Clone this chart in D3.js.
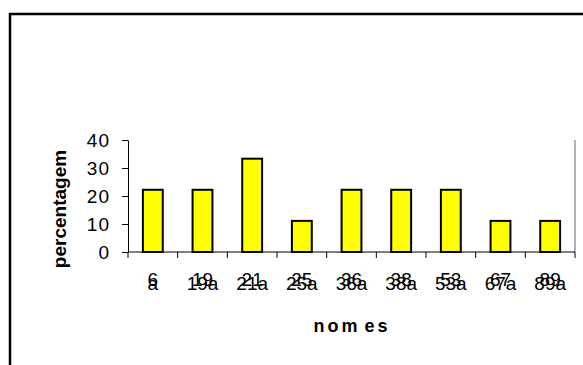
<!DOCTYPE html>
<html>
<head>
<meta charset="utf-8">
<script src="https://cdn.jsdelivr.net/npm/d3@7"></script>
<style>
  html, body { margin: 0; padding: 0; background: #fff; }
  svg text { font-family: Arial, "Liberation Sans", sans-serif; fill: #000; }
</style>
</head>
<body>
<svg id="chart" width="583" height="365"></svg>
<script>
// Category labels (two stacked lines each) and percentage per category
const labelTop    = ["6", "19", "21", "25", "36", "38", "53", "67", "89"];
const labelBottom = ["a", "19a", "21a", "25a", "36a", "38a", "53a", "67a", "89a"];
const percentages = [22.22, 22.22, 33.33, 11.11, 22.22, 22.22, 22.22, 11.11, 11.11];
const yTicks = [0, 10, 20, 30, 40];

const svg = d3.select("#chart");

// outer chart frame (runs off the right and bottom edges)
svg.append("rect")
  .attr("x", 10).attr("y", 14)
  .attr("width", 620).attr("height", 400)
  .attr("fill", "none").attr("stroke", "#000").attr("stroke-width", 2.5);

const plot = { left: 128, right: 575, top: 140, bottom: 252 };

const x = d3.scaleBand()
  .domain(d3.range(labelTop.length))
  .range([plot.left, plot.right])
  .paddingInner(0.6)
  .paddingOuter(0.3);

const y = d3.scaleLinear().domain([0, 40]).range([plot.bottom, plot.top]);

// plot area right edge
svg.append("line")
  .attr("x1", plot.right).attr("x2", plot.right)
  .attr("y1", plot.top).attr("y2", plot.bottom)
  .attr("stroke", "#999").attr("stroke-width", 1.5);

// bars
svg.append("g").selectAll("rect")
  .data(percentages)
  .join("rect")
  .attr("x", (d, i) => x(i))
  .attr("y", d => y(d))
  .attr("width", x.bandwidth())
  .attr("height", d => y(0) - y(d))
  .attr("fill", "#ffff00")
  .attr("stroke", "#000")
  .attr("stroke-width", 2);

// y axis
const yAxis = svg.append("g")
  .attr("transform", `translate(${plot.left},0)`)
  .call(d3.axisLeft(y).tickValues(yTicks).tickSize(6).tickSizeOuter(0).tickPadding(12));
yAxis.selectAll("path, line").attr("stroke", "#000").attr("stroke-width", 1);
yAxis.selectAll("text")
  .attr("font-size", 19)
  .attr("letter-spacing", 1)
  .attr("font-family", "Arial, 'Liberation Sans', sans-serif");

// x axis: baseline with tick marks on category boundaries
const step = x.step();
const boundaries = d3.range(labelTop.length + 1).map(i => plot.left + i * step);
svg.append("line")
  .attr("x1", plot.left).attr("x2", plot.right)
  .attr("y1", plot.bottom).attr("y2", plot.bottom)
  .attr("stroke", "#000").attr("stroke-width", 1);
svg.append("g").selectAll("line")
  .data(boundaries)
  .join("line")
  .attr("x1", d => d).attr("x2", d => d)
  .attr("y1", plot.bottom).attr("y2", plot.bottom + 6)
  .attr("stroke", "#000").attr("stroke-width", 1);

// category labels, two overlapping lines
const labels = svg.append("g").attr("font-size", 19).attr("text-anchor", "middle");
labels.selectAll("text.top")
  .data(labelTop)
  .join("text")
  .attr("class", "top")
  .attr("x", (d, i) => x(i) + x.bandwidth() / 2)
  .attr("y", 286)
  .text(d => d);
labels.selectAll("text.bottom")
  .data(labelBottom)
  .join("text")
  .attr("class", "bottom")
  .attr("x", (d, i) => x(i) + x.bandwidth() / 2)
  .attr("y", 290)
  .text(d => d);

// axis titles
const xTitle = svg.append("text")
  .attr("x", 352).attr("y", 332)
  .attr("text-anchor", "middle")
  .attr("font-size", 18).attr("font-weight", "bold")
  .attr("letter-spacing", 3);
xTitle.append("tspan").text("nom");
xTitle.append("tspan").attr("dx", 4).text("es");

svg.append("text")
  .attr("transform", "translate(66,209) rotate(-90)")
  .attr("text-anchor", "middle")
  .attr("font-size", 19).attr("font-weight", "bold")
  .text("percentagem");
</script>
</body>
</html>
